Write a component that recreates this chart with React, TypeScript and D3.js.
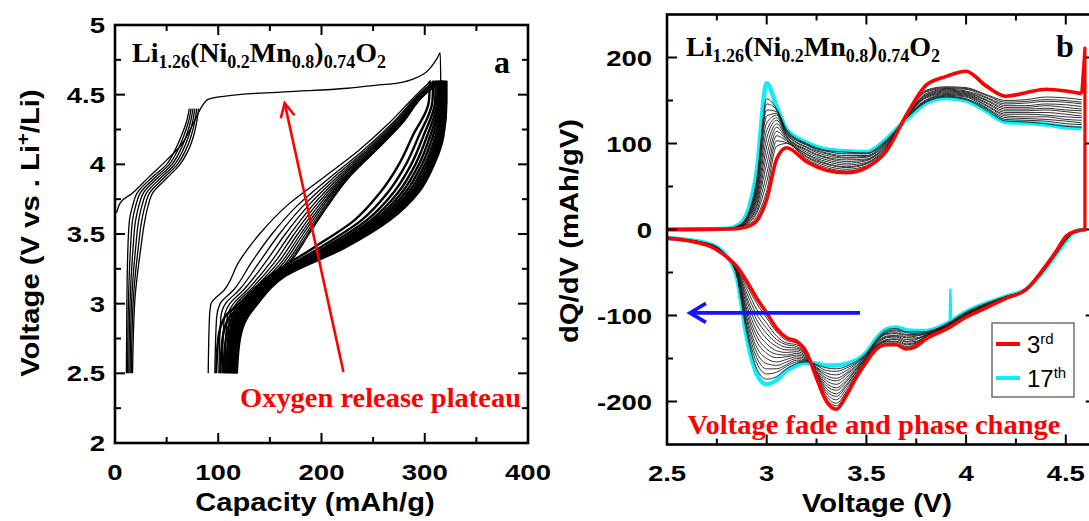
import React from "react";
import * as d3 from "d3";

type Pt = [number, number];

// ---------------- Panel a: voltage vs capacity ----------------
const capTicks = [0, 100, 200, 300, 400];
const capTickLabels = ["0", "100", "200", "300", "400"];
const voltTicksA = [2, 2.5, 3, 3.5, 4, 4.5, 5];
const voltTickLabelsA = ["2", "2.5", "3", "3.5", "4", "4.5", "5"];

// activation charge up to 4.8 V: [capacity mAh/g, voltage V]
const activationCharge: Pt[] = [
  [1.4, 3.65], [4.8, 3.72], [16.5, 3.79], [33, 3.91], [50, 4.03], [67, 4.17],
  [77, 4.31], [83.7, 4.41], [90, 4.467], [107, 4.49], [164, 4.52], [225, 4.546],
  [256, 4.57], [275, 4.585], [288, 4.61], [304, 4.68], [312, 4.76], [315, 4.8], [315.5, 4.6],
];

// formation cycles 2.5-4.4 V: voltages and capacities of each charge
const formationV = [2.5, 3.0, 3.4, 3.6, 3.7, 3.8, 3.9, 4.0, 4.1, 4.2, 4.3, 4.4];
const formationCap = [
  [11, 11.5, 12.5, 14, 17, 22, 35, 50, 58, 64, 69, 72],
  [12.2, 13, 15, 17, 20, 25, 38, 52.6, 60.6, 66.4, 71, 73.8],
  [13.4, 14.5, 17.5, 20, 23, 28, 41, 55.2, 63.2, 68.8, 73, 75.6],
  [14.6, 16, 20, 23, 26, 31, 44, 57.8, 65.8, 71.2, 75, 77.4],
  [15.8, 17.5, 22.5, 26, 29, 34, 47, 60.4, 68.4, 73.6, 77, 79.2],
  [17, 19, 25, 29, 32, 37, 50, 63, 71, 76, 79, 81],
];

// charge curves after activation (2.5-4.6 V)
const chargeV = [2.5, 2.9, 3.0, 3.1, 3.3, 3.5, 3.7, 3.9, 4.1, 4.3, 4.5, 4.6];
const chargeCap = [
  [90.3, 91.5, 93, 106, 120, 140, 166, 201, 236, 266, 292, 306],
  [96.7, 98.4, 101.8, 115, 132.5, 152, 176, 207.3, 240.3, 269.3, 294, 309],
  [100.6, 102.5, 107, 120.4, 140, 159.2, 182, 211, 242.8, 271.2, 295.2, 310.8],
  [103.7, 105.8, 111.2, 124.7, 146, 165, 186.8, 214, 244.8, 272.8, 296.2, 312.2],
  [106.2, 108.6, 114.7, 128.3, 151, 169.8, 190.8, 216.5, 246.5, 274.1, 297, 313.4],
  [108.3, 110.8, 117.5, 131.2, 155, 173.6, 194, 218.5, 247.9, 275.1, 297.6, 314.4],
  [110.1, 112.7, 120, 133.7, 158.5, 177, 196.8, 220.3, 249.1, 276, 298.2, 315.2],
  [111.6, 114.3, 122, 135.9, 161.5, 179.8, 199.2, 221.8, 250.1, 276.8, 298.6, 316],
  [112.9, 115.7, 123.8, 137.7, 164, 182.2, 201.2, 223, 251, 277.4, 299, 316.6],
  [114.2, 117.1, 125.6, 139.5, 166.5, 184.6, 203.2, 224.3, 251.8, 278.1, 299.4, 317.2],
  [115.2, 118.2, 127, 140.9, 168.5, 186.6, 204.8, 225.3, 252.5, 278.6, 299.8, 317.6],
  [116, 119, 128, 142, 170, 188, 206, 226, 253, 279, 300, 318],
];

// discharge curves (4.6 -> 2.5 V)
const dischargeV = [4.6, 4.45, 4.2, 4.0, 3.8, 3.6, 3.4, 3.2, 3.0, 2.9, 2.75, 2.5];
const dischargeCap = [
  [305, 304, 288, 275, 257, 232, 192, 150, 120, 106, 100, 98],
  [308.2, 307.4, 294, 281.8, 264.4, 238.8, 198, 153, 123.6, 110.4, 104.2, 102],
  [310.6, 310, 298.5, 286.9, 270, 243.9, 202.5, 155.3, 126.3, 113.7, 107.4, 105],
  [312.5, 312, 302.1, 291, 274.4, 248, 206.1, 157.1, 128.5, 116.3, 109.9, 107.4],
  [314.1, 313.7, 305.1, 294.4, 278.1, 251.4, 209.1, 158.6, 130.3, 118.5, 112, 109.4],
  [315.6, 315.2, 307.8, 297.4, 281.4, 254.4, 211.8, 159.9, 131.9, 120.5, 113.9, 111.2],
  [316.8, 316.6, 310.2, 300.2, 284.4, 257.2, 214.2, 161.1, 133.3, 122.3, 115.5, 112.8],
  [318, 317.8, 312.3, 302.5, 287, 259.5, 216.3, 162.2, 134.6, 123.8, 117, 114.2],
  [318.9, 318.8, 314.1, 304.6, 289.2, 261.6, 218.1, 163.1, 135.7, 125.1, 118.3, 115.4],
  [319.7, 319.6, 315.6, 306.3, 291, 263.3, 219.6, 163.8, 136.6, 126.2, 119.3, 116.4],
  [320.4, 320.3, 316.8, 307.6, 292.5, 264.6, 220.8, 164.4, 137.3, 127.1, 120.2, 117.2],
  [321, 321, 318, 309, 294, 266, 222, 165, 138, 128, 121, 118],
];

// plateau arrow: tail and head in [capacity, voltage]
const plateauArrow: Pt[] = [[221.3, 2.51], [164.3, 4.44]];

// ---------------- Panel b: dQ/dV vs voltage ----------------
const voltTicksB = [2.5, 3, 3.5, 4, 4.5];
const voltTickLabelsB = ["2.5", "3", "3.5", "4", "4.5"];
const dqdvTicks = [-200, -100, 0, 100, 200];
const dqdvTickLabels = ["-200", "-100", "0", "100", "200"];

const chgV = [2.5, 2.8, 2.85, 2.9, 2.95, 3.0, 3.05, 3.1, 3.2, 3.3, 3.4, 3.5, 3.6, 3.7, 3.8, 3.9, 4.0, 4.1, 4.2, 4.3, 4.4, 4.5, 4.58];
const chg3rd = [0, 0.5, 1, 3, 10, 35, 82, 95, 79, 69, 66, 72, 91, 133, 168, 178, 184, 167, 155, 159, 163, 161, 158];
const chg17th = [0, 1, 4, 18, 68, 170, 143, 116, 101, 93, 91, 90, 105, 128, 147, 153, 150, 138, 125, 124, 122, 119, 118];
// end of the 3rd charge at the 4.6 V cutoff
const chg3rdTail: Pt[] = [[4.58, 158], [4.596, 211], [4.596, 0]];
// cycles 4..16, one row per voltage in chgV
const chgMid = [
  [0, 0, 0, 0, 0, 0, 0, 0, 0, 0, 0, 0, 0],
  [0.5, 0.5, 0.5, 0.5, 0.5, 0.5, 1, 1, 1, 1, 1, 1, 1],
  [1.5, 1.7, 1.8, 2, 2.2, 2.3, 2.5, 2.7, 2.8, 3, 3.2, 3.3, 3.5],
  [5, 6, 7, 8, 8, 9, 10, 11, 12, 12, 13, 14, 15],
  [15, 19, 22, 26, 29, 33, 37, 40, 44, 47, 51, 54, 58],
  [45, 55, 65, 76, 86, 96, 106, 115, 124, 132, 139, 146, 152],
  [97, 103, 109, 114, 119, 123, 127, 130, 133, 135, 137, 139, 140],
  [100, 101, 103, 104, 105, 107, 108, 109, 111, 112, 113, 115, 116],
  [82, 84, 85, 87, 88, 90, 92, 93, 95, 96, 98, 99, 100],
  [72, 74, 76, 77, 79, 81, 83, 84, 86, 88, 89, 91, 92],
  [68, 70, 72, 73, 75, 77, 79, 81, 83, 84, 86, 88, 90],
  [73, 74, 76, 77, 78, 80, 81, 82, 84, 85, 86, 88, 89],
  [92, 93, 94, 95, 96, 97, 98, 99, 100, 101, 102, 103, 104],
  [132, 132, 132, 131, 131, 131, 130, 130, 130, 130, 129, 129, 129],
  [162, 161, 160, 158, 157, 156, 155, 154, 153, 151, 150, 149, 148],
  [166, 165, 164, 163, 162, 161, 160, 159, 158, 157, 156, 155, 154],
  [165, 164, 163, 161, 160, 159, 158, 157, 156, 155, 154, 152, 151],
  [157, 156, 154, 153, 151, 150, 148, 147, 145, 144, 142, 141, 139],
  [150, 148, 146, 144, 142, 140, 138, 136, 134, 132, 130, 128, 126],
  [151, 149, 147, 144, 142, 140, 138, 136, 134, 131, 129, 127, 125],
  [154, 151, 149, 146, 144, 141, 139, 136, 133, 131, 128, 126, 123],
  [153, 150, 148, 145, 142, 139, 137, 134, 131, 128, 126, 123, 120],
  [151, 148, 146, 143, 140, 138, 135, 132, 130, 127, 124, 122, 119],
];

const disV = [2.5, 2.7, 2.8, 2.85, 2.9, 2.95, 3.0, 3.05, 3.1, 3.15, 3.2, 3.25, 3.3, 3.35, 3.4, 3.45, 3.5, 3.55, 3.6, 3.65, 3.7, 3.75, 3.8, 3.9, 4.0, 4.1, 4.2, 4.3, 4.4, 4.45, 4.5, 4.55, 4.6];
const dis3rd = [-10, -18, -32, -43, -60, -80, -97, -115, -126, -130, -143, -173, -200, -209, -193, -172, -154, -139, -134, -134, -139, -136, -127, -116, -102, -91, -80, -70, -42, -26, -8, -2, 0];
const dis17th = [-10, -16, -31, -55, -125, -168, -180, -175, -164, -158, -155, -156, -158, -158, -156, -152, -143, -127, -116, -114, -117, -118, -118, -110, -96, -86, -78, -70, -45, -29, -13, -2, 0];
// short spike on the 17th discharge
const dis17thSpike: Pt[] = [[3.918, -109], [3.921, -70], [3.925, -108]];
const disMid = [
  [-10, -10, -10, -10, -10, -10, -10, -10, -10, -10, -10, -10, -10],
  [-18, -18, -18, -17, -17, -17, -17, -17, -17, -17, -16, -16, -16],
  [-32, -32, -32, -32, -32, -31, -31, -31, -31, -31, -31, -31, -31],
  [-44, -45, -46, -46, -47, -48, -49, -50, -51, -52, -52, -53, -54],
  [-65, -69, -74, -79, -83, -88, -93, -97, -102, -106, -111, -116, -120],
  [-86, -93, -99, -105, -111, -118, -124, -130, -137, -143, -149, -155, -162],
  [-103, -109, -115, -121, -127, -133, -139, -144, -150, -156, -162, -168, -174],
  [-119, -124, -128, -132, -136, -141, -145, -149, -154, -158, -162, -166, -171],
  [-129, -132, -134, -137, -140, -143, -146, -148, -151, -154, -157, -159, -162],
  [-132, -134, -136, -138, -140, -142, -144, -146, -148, -150, -152, -154, -156],
  [-144, -145, -146, -146, -147, -148, -149, -150, -151, -152, -152, -153, -154],
  [-172, -171, -169, -168, -167, -166, -165, -163, -162, -161, -160, -158, -157],
  [-197, -194, -191, -188, -185, -182, -179, -176, -173, -170, -167, -164, -161],
  [-205, -202, -198, -194, -191, -187, -184, -180, -176, -173, -169, -165, -162],
  [-190, -188, -185, -182, -180, -177, -175, -172, -169, -167, -164, -161, -159],
  [-171, -169, -168, -166, -165, -163, -162, -161, -159, -158, -156, -155, -153],
  [-153, -152, -152, -151, -150, -149, -149, -148, -147, -146, -145, -145, -144],
  [-138, -137, -136, -136, -135, -134, -133, -132, -131, -130, -130, -129, -128],
  [-133, -131, -130, -129, -128, -126, -125, -124, -122, -121, -120, -119, -117],
  [-133, -131, -130, -128, -127, -125, -124, -123, -121, -120, -118, -117, -115],
  [-137, -136, -134, -133, -131, -130, -128, -126, -125, -123, -122, -120, -119],
  [-135, -133, -132, -131, -130, -128, -127, -126, -124, -123, -122, -121, -119],
  [-126, -126, -125, -124, -124, -123, -123, -122, -121, -121, -120, -119, -119],
  [-116, -115, -115, -114, -114, -113, -113, -113, -112, -112, -111, -111, -110],
  [-102, -101, -101, -100, -100, -99, -99, -99, -98, -98, -97, -97, -96],
  [-91, -90, -90, -90, -89, -89, -89, -88, -88, -87, -87, -87, -86],
  [-80, -80, -80, -79, -79, -79, -79, -79, -79, -79, -78, -78, -78],
  [-70, -70, -70, -70, -70, -70, -70, -70, -70, -70, -70, -70, -70],
  [-42, -42, -43, -43, -43, -43, -44, -44, -44, -44, -44, -45, -45],
  [-26, -26, -27, -27, -27, -27, -28, -28, -28, -28, -28, -29, -29],
  [-8, -9, -9, -9, -10, -10, -11, -11, -11, -12, -12, -12, -13],
  [-2, -2, -2, -2, -2, -2, -2, -2, -2, -2, -2, -2, -2],
  [0, 0, 0, 0, 0, 0, 0, 0, 0, 0, 0, 0, 0],
];

// shift arrow in [voltage, dQ/dV]
const fadeArrow: Pt[] = [[3.468, -97], [2.615, -97]];

const legendItems = [
  { label: "3", sup: "rd", color: "#ff0000" },
  { label: "17", sup: "th", color: "#12ecf6" },
];

// ---------------- scales ----------------
const xA = d3.scaleLinear().domain([0, 400]).range([115, 528]);
const yA = d3.scaleLinear().domain([2, 5]).range([443, 25]);
const xB = d3.scaleLinear().domain([2.5, 4.65]).range([667, 1095.7]);
const yB = d3.scaleLinear().domain([-250, 250]).range([444.5, 14.5]);

const RED = "#ff0000";
const CYAN = "#12ecf6";
const BLUE = "#1414ff";
const SANS = "'Liberation Sans', Arial, sans-serif";
const SERIF = "'Liberation Serif', 'Times New Roman', serif";

const zip = (xs: number[], ys: number[]): Pt[] => xs.map((x, i) => [x, ys[i]]);

const lineA = d3.line<Pt>().x((d) => xA(d[0])).y((d) => yA(d[1]));
const lineAmonoY = d3.line<Pt>().x((d) => xA(d[0])).y((d) => yA(d[1])).curve(d3.curveMonotoneY);
const lineAmonoX = d3.line<Pt>().x((d) => xA(d[0])).y((d) => yA(d[1])).curve(d3.curveMonotoneX);
const lineB = d3.line<Pt>().x((d) => xB(d[0])).y((d) => yB(d[1])).curve(d3.curveMonotoneX);
const lineBlin = d3.line<Pt>().x((d) => xB(d[0])).y((d) => yB(d[1]));

function Frame({ x, y, xMajor, xMinor, yMajor, yMinor }: any) {
  const [x0, x1] = x.range();
  const [yb, yt] = y.range();
  const MAJ = 10;
  const MIN = 6;
  const segs: number[][] = [];
  const inside = (v: number, a: number, b: number) => v > Math.min(a, b) + 1 && v < Math.max(a, b) - 1;
  xMajor.forEach((v: number) => {
    const p = x(v);
    if (inside(p, x0, x1)) segs.push([p, yb, p, yb - MAJ], [p, yt, p, yt + MAJ]);
  });
  xMinor.forEach((v: number) => {
    const p = x(v);
    if (inside(p, x0, x1)) segs.push([p, yb, p, yb - MIN], [p, yt, p, yt + MIN]);
  });
  yMajor.forEach((v: number) => {
    const p = y(v);
    if (inside(p, yb, yt)) segs.push([x0, p, x0 + MAJ, p], [x1, p, x1 - MAJ, p]);
  });
  yMinor.forEach((v: number) => {
    const p = y(v);
    if (inside(p, yb, yt)) segs.push([x0, p, x0 + MIN, p], [x1, p, x1 - MIN, p]);
  });
  return (
    <g>
      {segs.map((s, i) => (
        <line key={i} x1={s[0]} y1={s[1]} x2={s[2]} y2={s[3]} stroke="#000" strokeWidth={2} />
      ))}
      <rect x={x0} y={yt} width={x1 - x0} height={yb - yt} fill="none" stroke="#000" strokeWidth={2.6} />
    </g>
  );
}

function TickLabel({ x, y, text, anchor }: { x: number; y: number; text: string; anchor: string }) {
  return (
    <text
      transform={`translate(${x},${y}) scale(1.25,1)`}
      textAnchor={anchor}
      fontFamily={SANS}
      fontWeight="bold"
      fontSize={22}
      fill="#000"
    >
      {text}
    </text>
  );
}

function Formula({ x, y }: { x: number; y: number }) {
  const sub = { fontSize: 18 };
  return (
    <text x={x} y={y} fontFamily={SERIF} fontWeight="bold" fontSize={28} fill="#000">
      Li<tspan {...sub} dy={6}>1.26</tspan>
      <tspan dy={-6}>(Ni</tspan>
      <tspan {...sub} dy={6}>0.2</tspan>
      <tspan dy={-6}>Mn</tspan>
      <tspan {...sub} dy={6}>0.8</tspan>
      <tspan dy={-6}>)</tspan>
      <tspan {...sub} dy={6}>0.74</tspan>
      <tspan dy={-6}>O</tspan>
      <tspan {...sub} dy={6}>2</tspan>
    </text>
  );
}

function arrowHead(tip: number[], tail: number[], len: number, half: number) {
  const dx = tip[0] - tail[0];
  const dy = tip[1] - tail[1];
  const n = Math.hypot(dx, dy);
  const ux = dx / n;
  const uy = dy / n;
  const bx = tip[0] - ux * len;
  const by = tip[1] - uy * len;
  return `M${bx - uy * half},${by + ux * half}L${tip[0]},${tip[1]}L${bx + uy * half},${by - ux * half}`;
}

export default function App() {
  // panel a series
  const formation = formationCap.map((caps) => zip(caps, formationV));
  const charges = chargeCap.map((caps) => zip(caps, chargeV));
  const discharges = dischargeCap.map((caps) => zip(caps, dischargeV));

  // panel b series
  const chgMidSeries = d3.range(13).map((j) => chgV.map((v, i) => [v, chgMid[i][j]] as Pt));
  const disMidSeries = d3.range(13).map((j) => disV.map((v, i) => [v, disMid[i][j]] as Pt));

  const pa0 = [xA(plateauArrow[0][0]), yA(plateauArrow[0][1])];
  const pa1 = [xA(plateauArrow[1][0]), yA(plateauArrow[1][1])];
  const fa0 = [xB(fadeArrow[0][0]), yB(fadeArrow[0][1])];
  const fa1 = [xB(fadeArrow[1][0]), yB(fadeArrow[1][1])];

  const legX = 992;
  const legY = 323;

  return (
    <svg
      width={1089}
      height={521}
      style={{ position: "absolute", left: 0, top: 0, background: "#fff" }}
    >
      <rect x={0} y={0} width={1089} height={521} fill="#fff" />
      <defs>
        <clipPath id="clipB">
          <rect x={667} y={14.5} width={428.7} height={430} />
        </clipPath>
      </defs>

      {/* ---------- panel a ---------- */}
      <g fill="none" stroke="#000" strokeLinejoin="round">
        {formation.map((d, i) => (
          <path key={"f" + i} d={lineAmonoY(d) || ""} strokeWidth={1.3} />
        ))}
        <path d={lineAmonoX(activationCharge) || ""} strokeWidth={1.3} />
        {charges.map((d, i) => (
          <path key={"c" + i} d={lineAmonoY(d) || ""} strokeWidth={1.3} />
        ))}
        {discharges.map((d, i) => (
          <path key={"d" + i} d={lineAmonoY(d) || ""} strokeWidth={2.4} />
        ))}
      </g>
      <g stroke={RED} strokeWidth={2.6} fill="none">
        <path d={lineA([plateauArrow[0], plateauArrow[1]]) || ""} />
        <path d={arrowHead(pa1, pa0, 14, 7)} strokeLinejoin="miter" />
      </g>
      <Frame
        x={xA}
        y={yA}
        xMajor={capTicks}
        xMinor={d3.range(50, 400, 100)}
        yMajor={voltTicksA}
        yMinor={d3.range(2.25, 5, 0.5)}
      />
      {capTicks.map((v, i) => (
        <TickLabel key={"ax" + i} x={xA(v)} y={480} text={capTickLabels[i]} anchor="middle" />
      ))}
      {voltTicksA.map((v, i) => (
        <TickLabel key={"ay" + i} x={105} y={yA(v) + 8} text={voltTickLabelsA[i]} anchor="end" />
      ))}
      <text
        transform="translate(315,511) scale(1.12,1)"
        textAnchor="middle"
        fontFamily={SANS}
        fontWeight="bold"
        fontSize={26}
      >
        Capacity (mAh/g)
      </text>
      <text
        transform="translate(39,233) rotate(-90) scale(1.125,1)"
        textAnchor="middle"
        fontFamily={SANS}
        fontWeight="bold"
        fontSize={26}
      >
        Voltage (V vs . Li<tspan fontSize={18} dy={-10}>+</tspan>
        <tspan dy={10}>/Li)</tspan>
      </text>
      <Formula x={132} y={62} />
      <text x={494} y={73} fontFamily={SERIF} fontWeight="bold" fontSize={32}>
        a
      </text>
      <text
        x={240}
        y={407}
        fontFamily={SERIF}
        fontWeight="bold"
        fontSize={27}
        fill={RED}
        textLength={281}
        lengthAdjust="spacingAndGlyphs"
      >
        Oxygen release plateau
      </text>

      {/* ---------- panel b ---------- */}
      <g clipPath="url(#clipB)" fill="none" strokeLinejoin="round">
        <path d={lineB(zip(chgV, chg17th)) || ""} stroke={CYAN} strokeWidth={4.5} />
        <path d={lineB(zip(disV, dis17th)) || ""} stroke={CYAN} strokeWidth={4.5} />
        <path d={lineBlin(dis17thSpike) || ""} stroke={CYAN} strokeWidth={2.5} />
        {chgMidSeries.map((d, i) => (
          <path key={"bc" + i} d={lineB(d) || ""} stroke="#1a1a1a" strokeWidth={0.9} />
        ))}
        {disMidSeries.map((d, i) => (
          <path key={"bd" + i} d={lineB(d) || ""} stroke="#1a1a1a" strokeWidth={0.9} />
        ))}
        <path d={lineB(zip(chgV, chg3rd)) || ""} stroke={RED} strokeWidth={3.6} />
        <path d={lineBlin(chg3rdTail) || ""} stroke={RED} strokeWidth={3.2} />
        <path d={lineB(zip(disV, dis3rd)) || ""} stroke={RED} strokeWidth={3.6} />
      </g>
      <g stroke={BLUE} strokeWidth={3.6} fill="none">
        <line x1={fa0[0]} y1={fa0[1]} x2={fa1[0]} y2={fa1[1]} />
        <path d={arrowHead(fa1, fa0, 16, 9.5)} strokeLinejoin="miter" />
      </g>
      <Frame
        x={xB}
        y={yB}
        xMajor={voltTicksB}
        xMinor={d3.range(2.75, 4.65, 0.5)}
        yMajor={dqdvTicks}
        yMinor={d3.range(-250, 251, 100)}
      />
      {voltTicksB.map((v, i) => (
        <TickLabel key={"bx" + i} x={xB(v)} y={481} text={voltTickLabelsB[i]} anchor="middle" />
      ))}
      {dqdvTicks.map((v, i) => (
        <TickLabel key={"by" + i} x={652} y={yB(v) + 8} text={dqdvTickLabels[i]} anchor="end" />
      ))}
      <text
        transform="translate(877,512) scale(1.12,1)"
        textAnchor="middle"
        fontFamily={SANS}
        fontWeight="bold"
        fontSize={26}
      >
        Voltage (V)
      </text>
      <text
        transform="translate(578,231) rotate(-90) scale(1.125,1)"
        textAnchor="middle"
        fontFamily={SANS}
        fontWeight="bold"
        fontSize={26}
      >
        dQ/dV (mAh/gV)
      </text>
      <Formula x={686} y={56} />
      <text x={1056} y={57} fontFamily={SERIF} fontWeight="bold" fontSize={32}>
        b
      </text>
      <text
        x={687.5}
        y={434}
        fontFamily={SERIF}
        fontWeight="bold"
        fontSize={27}
        fill={RED}
        textLength={373}
        lengthAdjust="spacingAndGlyphs"
      >
        Voltage fade and phase change
      </text>

      {/* legend */}
      <rect x={legX} y={legY} width={82} height={74} fill="#fff" stroke="#666" strokeWidth={1.4} />
      {legendItems.map((it, i) => {
        const cy = legY + 21 + i * 34;
        return (
          <g key={"lg" + i}>
            <line x1={legX + 4} y1={cy} x2={legX + 28} y2={cy} stroke={it.color} strokeWidth={4} />
            <text x={legX + 35} y={cy + 9} fontFamily={SANS} fontSize={24} fill="#000">
              {it.label}
              <tspan fontSize={15} dy={-9}>
                {it.sup}
              </tspan>
            </text>
          </g>
        );
      })}
    </svg>
  );
}
